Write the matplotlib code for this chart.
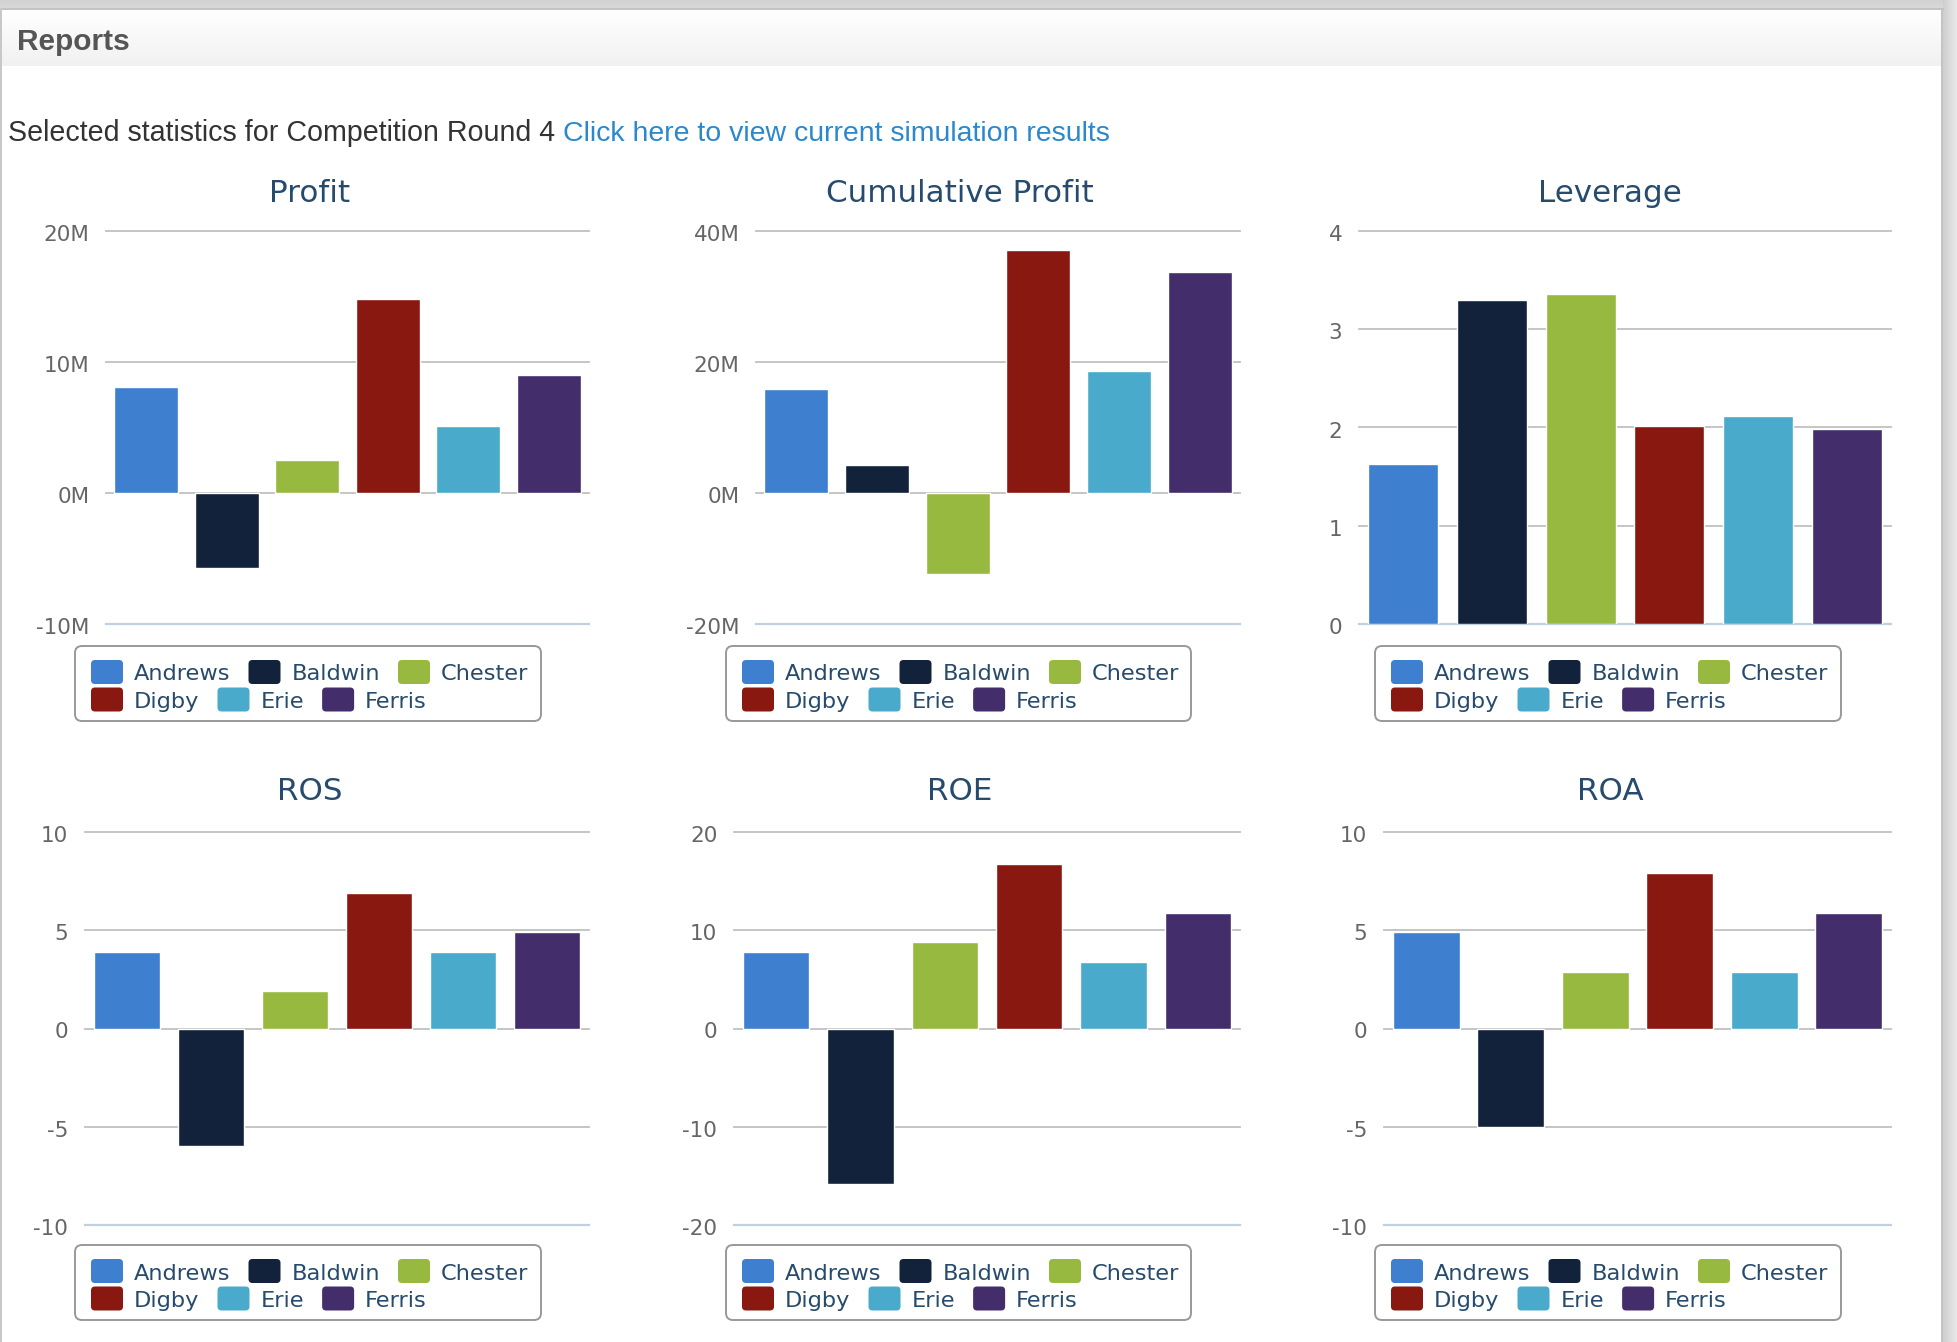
import matplotlib.pyplot as plt
import numpy as np
from matplotlib.patches import FancyBboxPatch, Rectangle
from matplotlib.transforms import ScaledTranslation

W, H = 1958, 1342

companies = ["Andrews", "Baldwin", "Chester", "Digby", "Erie", "Ferris"]
colors = ["#3e7fcf", "#12223a", "#98b940", "#891811", "#4aaacb", "#432d6b"]

# values (profit figures in millions)
profit = [8.1, -5.7, 2.5, 14.8, 5.1, 9.0]
cumulative_profit = [15.9, 4.3, -12.3, 37.1, 18.6, 33.7]
leverage = [1.63, 3.30, 3.36, 2.02, 2.12, 1.98]
ros = [3.9, -6.0, 1.9, 6.9, 3.9, 4.9]
roe = [7.8, -15.8, 8.8, 16.7, 6.8, 11.8]
roa = [4.9, -5.0, 2.9, 7.9, 2.9, 5.9]

profit_ticks = [-10, 0, 10, 20]
cum_ticks = [-20, 0, 20, 40]
lev_ticks = [0, 1, 2, 3, 4]
ros_ticks = [-10, -5, 0, 5, 10]
roe_ticks = [-20, -10, 0, 10, 20]
roa_ticks = [-10, -5, 0, 5, 10]

TITLE_C = "#274b6d"
LABEL_C = "#666666"
GRID_C = "#c0c0c0"
AXIS_C = "#c0d0e0"

# (title, values, ticks, suffix, plot box l/t/r/b px, title x, title y, legend box l/t/r/b)
charts = [
    ("Profit", profit, profit_ticks, "M", (106, 231, 589, 624), 310, 193, (75, 646, 541, 721)),
    ("Cumulative Profit", cumulative_profit, cum_ticks, "M", (756, 231, 1240, 624), 960, 193, (726, 646, 1191, 721)),
    ("Leverage", leverage, lev_ticks, "", (1359, 231, 1891, 624), 1610, 193, (1375, 646, 1841, 721)),
    ("ROS", ros, ros_ticks, "", (85, 832, 589, 1225), 310, 792, (75, 1245, 541, 1320)),
    ("ROE", roe, roe_ticks, "", (734, 832, 1240, 1225), 960, 792, (726, 1245, 1191, 1320)),
    ("ROA", roa, roa_ticks, "", (1384, 832, 1891, 1225), 1610, 792, (1375, 1245, 1841, 1320)),
]

fig = plt.figure(figsize=(W / 100, H / 100), dpi=100)
fig.patch.set_facecolor("white")

# page background drawn in pixel coordinates
bg = fig.add_axes([0, 0, 1, 1], zorder=0)
bg.axis("off")


def vgrad(ax, x0, x1, y0, y1, c0, c1, horizontal=False):
    c0 = np.array(plt.matplotlib.colors.to_rgb(c0))
    c1 = np.array(plt.matplotlib.colors.to_rgb(c1))
    t = np.linspace(0, 1, 64)
    g = c0[None, :] * (1 - t[:, None]) + c1[None, :] * t[:, None]
    img = g[None, :, :] if horizontal else g[:, None, :]
    ax.imshow(img, extent=(x0, x1, y1, y0), aspect="auto", interpolation="bilinear", zorder=0)


vgrad(bg, 0, W, 0, 9, "#d2d2d2", "#dadada")
vgrad(bg, 1943, W, 0, H, "#cfcfcf", "#ebebeb", horizontal=True)
vgrad(bg, 2, 1942, 10, 66, "#ffffff", "#f1f1f1")
bg.add_patch(Rectangle((0, 8), 1944, 2, color="#c4c4c4", lw=0, zorder=1))
bg.add_patch(Rectangle((1941, 8), 2, H, color="#c4c4c4", lw=0, zorder=1))
bg.add_patch(Rectangle((0, 8), 2, H, color="#c8c8c8", lw=0, zorder=1))
bg.set_xlim(0, W)
bg.set_ylim(H, 0)

bg.text(17, 50, "Reports", family="Liberation Sans", weight="bold", fontsize=21.5,
        color="#555555", va="baseline", ha="left")
intro = bg.text(8, 141, "Selected statistics for Competition Round 4", family="Liberation Sans",
                fontsize=20.6, color="#333333", va="baseline", ha="left")

renderer = fig.canvas.get_renderer()
intro_w = intro.get_window_extent(renderer).width
bg.text(8 + intro_w + 8, 141, "Click here to view current simulation results", family="Liberation Sans",
        fontsize=20.5, color="#2b88cc", va="baseline", ha="left")


def draw_legend(box):
    l, t, r, b = box
    bg.add_patch(FancyBboxPatch((l, t), r - l, b - t, boxstyle="round,pad=0,rounding_size=7",
                                fc="white", ec="#999999", lw=1.4, zorder=2))
    rows = [companies[:3], companies[3:]]
    row_centers = [t + 26, t + 53.5]
    for row, yc in zip(rows, row_centers):
        x = l + 16
        for name in row:
            c = colors[companies.index(name)]
            bg.add_patch(FancyBboxPatch((x, yc - 12), 32, 24, boxstyle="round,pad=0,rounding_size=4",
                                        fc=c, ec="none", zorder=3))
            txt = bg.text(x + 43, yc + 8.5, name, family="DejaVu Sans", fontsize=16.2,
                          color=TITLE_C, va="baseline", ha="left", zorder=3)
            x = x + 43 + txt.get_window_extent(renderer).width + 18


label_shift = ScaledTranslation(0, -2 / 100, fig.dpi_scale_trans)

for title, values, ticks, suffix, (l, t, r, b), tx, ty, lbox in charts:
    ax = fig.add_axes([l / W, 1 - b / H, (r - l) / W, (b - t) / H], zorder=2)
    ax.set_facecolor("none")
    ax.bar(range(len(companies)), values, width=0.79, color=colors, edgecolor="white",
           linewidth=1, zorder=2)
    ax.set_xlim(-0.5, len(companies) - 0.5)
    ax.set_ylim(ticks[0], ticks[-1])
    ax.set_yticks(ticks)
    ax.set_yticklabels([f"{v}{suffix}" for v in ticks])
    ax.set_xticks([])
    for v in ticks[1:]:
        ax.axhline(v, color=GRID_C, lw=1.3, zorder=1, clip_on=False)
    ax.axhline(ticks[0], color=AXIS_C, lw=1.6, zorder=1, clip_on=False)
    for s in ax.spines.values():
        s.set_visible(False)
    ax.tick_params(axis="y", length=0, pad=12, labelsize=15.5, labelcolor=LABEL_C)
    for lab in ax.get_yticklabels():
        lab.set_family("DejaVu Sans")
        lab.set_transform(lab.get_transform() + label_shift)
    bg.text(tx, ty, title, family="DejaVu Sans", fontsize=22.3, color=TITLE_C,
            ha="center", va="center")
    draw_legend(lbox)

fig.savefig("out.png", dpi=100, facecolor="white")
